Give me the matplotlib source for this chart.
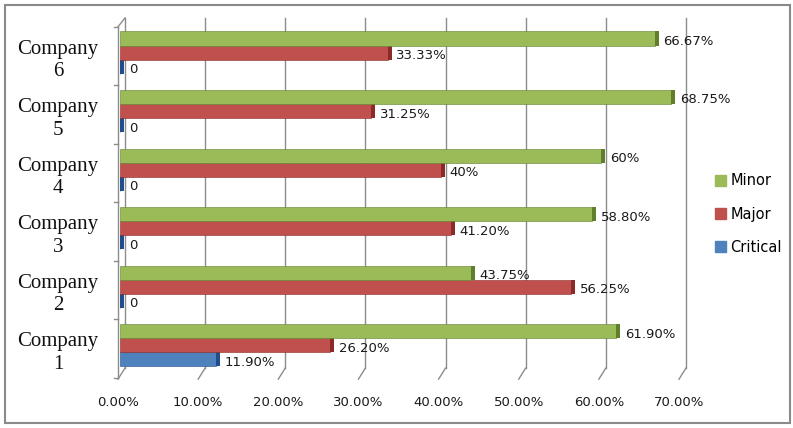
import matplotlib.pyplot as plt
from matplotlib.patches import Rectangle, Patch

companies = ["Company\n1", "Company\n2", "Company\n3", "Company\n4", "Company\n5", "Company\n6"]
critical = [11.90, 0, 0, 0, 0, 0]
major = [26.20, 56.25, 41.20, 40, 31.25, 33.33]
minor = [61.90, 43.75, 58.80, 60, 68.75, 66.67]
x_ticks = [0, 10, 20, 30, 40, 50, 60, 70]

series = [
    ("Critical", critical, "#4F81BD", "#1F4E8C", 0.32),
    ("Major", major, "#C0504D", "#8B2A27", 0.56),
    ("Minor", minor, "#9BBB59", "#5F7F2B", 0.80),
]


def fmt(v):
    if v == 0:
        return "0"
    if v == int(v):
        return "%d%%" % v
    return "%.2f%%" % v


fig = plt.figure(figsize=(7.93, 4.28), dpi=100)
ax = fig.add_axes([118 / 793, 50 / 428, 561 / 793, 360 / 428])
ax.set_xlim(0, 70)
ax.set_ylim(0, 6.15)

# back wall + floor (pseudo 3d)
dx, dy = 0.87, 0.17
grid_c = "#8c8c8c"
for t in x_ticks:
    ax.plot([t + dx, t + dx], [dy, 6.15], color=grid_c, lw=1, clip_on=False, zorder=0)
    ax.plot([t, t + dx], [-0.02, dy], color=grid_c, lw=1, clip_on=False, zorder=0)
ax.plot([0, 0], [0, 6.0], color=grid_c, lw=1, clip_on=False, zorder=0)
ax.plot([0, dx], [6.0, 6.15], color=grid_c, lw=1, clip_on=False, zorder=0)
for k in range(7):
    ax.plot([-0.5, 0], [k, k], color=grid_c, lw=1, clip_on=False, zorder=0)

left = 0.3
cap = 0.5
h = 0.24
for name, vals, col, dark, off in series:
    ys = [i + off for i in range(len(vals))]
    ax.barh(ys, vals, height=h, left=left, color=col, edgecolor=dark, linewidth=0.4, zorder=2)
    ax.barh(ys, [cap] * len(vals), height=h, left=[left + v for v in vals],
            color=dark, linewidth=0, zorder=2)
    for y, v in zip(ys, vals):
        ax.text(left + v + cap + 0.6, y - 0.05, fmt(v), va="center", ha="left",
                fontsize=9.5, color="#1a1a1a", zorder=3)

ax.set_xticks(x_ticks)
ax.set_xticklabels(["%.2f%%" % t for t in x_ticks], fontsize=9.5, color="#1a1a1a")
ax.tick_params(axis="x", length=0, pad=13)
ax.set_yticks([i + 0.5 for i in range(len(companies))])
ax.set_yticklabels(companies, family="Liberation Serif", fontsize=15, color="#111111")
ax.tick_params(axis="y", length=0, pad=14)
for lab in ax.get_yticklabels():
    lab.set_multialignment("center")
    lab.set_linespacing(1.25)
for s in ax.spines.values():
    s.set_visible(False)

handles = [Patch(facecolor=c, edgecolor=c) for _, _, c, _, _ in series[::-1]]
names = [n for n, _, _, _, _ in series[::-1]]
fig.legend(handles, names, loc="center left", bbox_to_anchor=(715 / 793, 1 - 214 / 428),
           frameon=False, fontsize=10.5, handlelength=0.75, handleheight=0.75,
           handletextpad=0.3, labelspacing=1.25, borderpad=0, borderaxespad=0)

fig.patches.append(Rectangle((5 / 793, 5 / 428), 785 / 793, 418 / 428, transform=fig.transFigure,
                             fill=False, edgecolor="#8a8a8a", lw=1.5))

fig.savefig("out.png", dpi=100)
